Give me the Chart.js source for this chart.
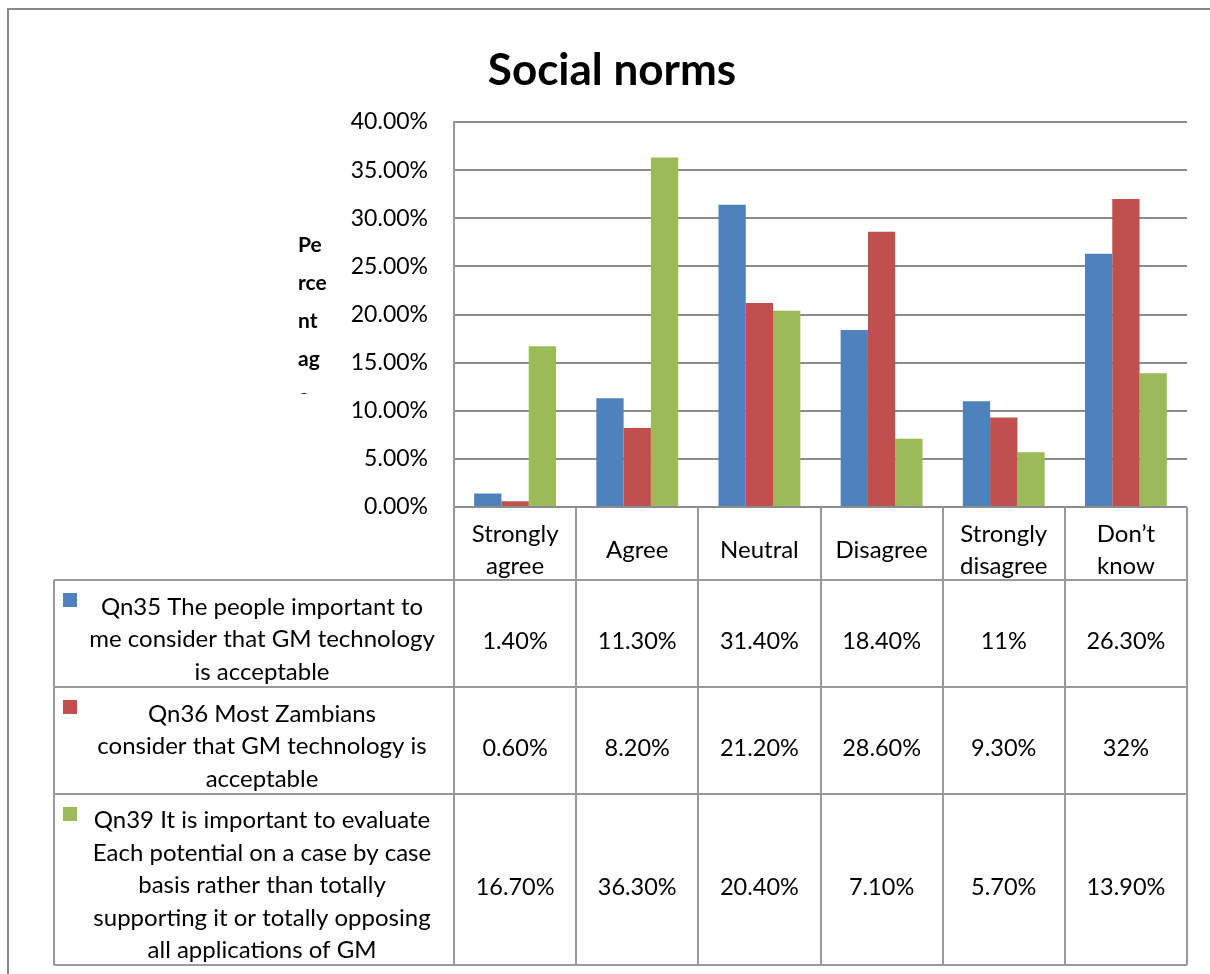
<!DOCTYPE html>
<html>
<head>
<meta charset="utf-8">
<title>Social norms</title>
<script src="https://cdn.jsdelivr.net/npm/chart.js@4.4.0/dist/chart.umd.min.js"></script>
<style>
  html, body { margin: 0; padding: 0; background: #ffffff; overflow: hidden; }
  #wrap { position: relative; width: 1210px; height: 974px; }
  canvas { display: block; }
</style>
</head>
<body>
<div id="wrap"><canvas id="chart" width="1210" height="974"></canvas></div>
<script>
// Response categories (header row of the data table, split where the cells wrap)
const categories = [
  ['Strongly', 'agree'],
  ['Agree'],
  ['Neutral'],
  ['Disagree'],
  ['Strongly', 'disagree'],
  ['Don\u2019t', 'know']
];

// Percentage of respondents per question
const qn35 = [1.4, 11.3, 31.4, 18.4, 11, 26.3];
const qn36 = [0.6, 8.2, 21.2, 28.6, 9.3, 32];
const qn39 = [16.7, 36.3, 20.4, 7.1, 5.7, 13.9];

// Series names as they wrap in the legend column of the data table
const qn35Name = ['Qn35 The people important to', 'me consider that GM technology', 'is acceptable'];
const qn36Name = ['Qn36 Most Zambians', 'consider that GM technology is', 'acceptable'];
const qn39Name = ['Qn39 It is important to evaluate', 'Each potential on a case by case',
                  'basis rather than totally', 'supporting it or totally opposing', 'all applications of GM'];

// Value axis ticks (percent)
const yTicks = [0, 5, 10, 15, 20, 25, 30, 35, 40];

const chartTitle = 'Social norms';
const yTitleLines = ['Pe', 'rce', 'nt', 'ag', 'e'];

const colors = ['#4F81BD', '#C0504D', '#9BBB59'];
const LINE = '#9a9a9a';
const FONT = 'Lato, "Open Sans", sans-serif';

function fmtPct(v) {
  return (Number.isInteger(v) ? String(v) : v.toFixed(2)) + '%';
}

// Draws the frame, title, axis title and the data table under the plot
const tablePlugin = {
  id: 'dataTable',
  beforeDraw(chart) {
    const ctx = chart.ctx;
    ctx.save();
    ctx.fillStyle = '#ffffff';
    ctx.fillRect(0, 0, chart.width, chart.height);
    ctx.strokeStyle = '#8a8a8a';
    ctx.lineWidth = 2;
    ctx.beginPath();
    ctx.moveTo(8, chart.height + 2);
    ctx.lineTo(8, 9);
    ctx.lineTo(chart.width + 2, 9);
    ctx.stroke();
    ctx.restore();
  },
  afterDraw(chart) {
    const ctx = chart.ctx;
    const area = chart.chartArea;
    const xs = chart.scales.x;
    const n = chart.data.labels.length;
    const colW = (area.right - area.left) / n;

    ctx.save();

    // chart title
    ctx.fillStyle = '#000';
    ctx.font = 'bold 44px ' + FONT;
    ctx.textAlign = 'center';
    ctx.textBaseline = 'alphabetic';
    ctx.fillText(chartTitle, 612, 85);

    // wrapped, clipped value-axis title
    ctx.save();
    ctx.beginPath();
    ctx.rect(280, 200, 70, 194);
    ctx.clip();
    ctx.font = 'bold 21px ' + FONT;
    ctx.textAlign = 'left';
    yTitleLines.forEach((t, i) => ctx.fillText(t, 298, 252 + i * 38));
    ctx.restore();

    // table geometry
    const tableLeft = 54;
    const lineH = 32.5;
    const headerTop = area.bottom;
    const headerBottom = headerTop + 73;
    const rows = chart.data.datasets.map(ds => ({
      ds,
      h: ds.nameLines.length * 32 + 11
    }));
    let y = headerBottom;
    rows.forEach(r => { r.top = y; y += r.h; r.bottom = y; });
    const tableBottom = y;

    // grid lines of the table
    ctx.strokeStyle = LINE;
    ctx.lineWidth = 2;
    ctx.beginPath();
    ctx.moveTo(tableLeft, headerBottom); ctx.lineTo(area.right, headerBottom);
    rows.forEach(r => { ctx.moveTo(tableLeft, r.bottom); ctx.lineTo(area.right, r.bottom); });
    ctx.moveTo(tableLeft, headerBottom); ctx.lineTo(tableLeft, tableBottom);
    for (let i = 0; i <= n; i++) {
      const x = Math.round(area.left + i * colW);
      ctx.moveTo(x, headerTop); ctx.lineTo(x, tableBottom);
    }
    ctx.stroke();

    // header labels
    ctx.fillStyle = '#000';
    ctx.font = '24px ' + FONT;
    ctx.textAlign = 'center';
    ctx.textBaseline = 'middle';
    chart.data.labels.forEach((lab, i) => {
      const cx = xs.getPixelForValue(i);
      const mid = (headerTop + headerBottom) / 2 + 7;
      lab.forEach((t, k) => {
        ctx.fillText(t, cx, mid + (k - (lab.length - 1) / 2) * lineH);
      });
    });

    // legend keys, series names and values
    rows.forEach(r => {
      const mid = (r.top + r.bottom) / 2 + 6;
      ctx.fillStyle = r.ds.backgroundColor;
      ctx.fillRect(63, r.top + 13, 14, 14);
      ctx.fillStyle = '#000';
      ctx.font = '24px ' + FONT;
      const L = r.ds.nameLines;
      L.forEach((t, k) => {
        ctx.fillText(t, 262, mid + (k - (L.length - 1) / 2) * lineH);
      });
      ctx.font = '23.5px ' + FONT;
      r.ds.data.forEach((v, i) => {
        ctx.fillText(fmtPct(v), xs.getPixelForValue(i), mid + 2);
      });
    });

    ctx.restore();
  }
};

function build() {
  new Chart(document.getElementById('chart'), {
    type: 'bar',
    data: {
      labels: categories,
      datasets: [
        { label: qn35Name.join(' '), nameLines: qn35Name, data: qn35, backgroundColor: colors[0] },
        { label: qn36Name.join(' '), nameLines: qn36Name, data: qn36, backgroundColor: colors[1] },
        { label: qn39Name.join(' '), nameLines: qn39Name, data: qn39, backgroundColor: colors[2] }
      ]
    },
    options: {
      responsive: false,
      animation: false,
      devicePixelRatio: 1,
      layout: { padding: { left: 0, right: 23, top: 122, bottom: 467 } },
      datasets: { bar: { categoryPercentage: 0.67, barPercentage: 1.0, borderWidth: 0 } },
      plugins: {
        legend: { display: false },
        title: { display: false },
        tooltip: { enabled: false }
      },
      scales: {
        x: {
          grid: { display: false, drawTicks: false },
          border: { display: false },
          ticks: { display: false },
          afterFit(s) { s.height = 0; }
        },
        y: {
          min: 0,
          max: 40,
          afterBuildTicks(s) { s.ticks = yTicks.map(v => ({ value: v })); },
          afterFit(s) { s.width = 454; },
          grid: { color: '#8c8c8c', lineWidth: 2, drawTicks: false },
          border: { display: true, color: LINE, width: 2 },
          ticks: {
            padding: 26,
            color: '#000',
            font: { family: FONT, size: 23 },
            callback: v => v.toFixed(2) + '%'
          }
        }
      }
    },
    plugins: [tablePlugin]
  });
}

if (document.fonts && document.fonts.load) {
  Promise.all([
    document.fonts.load('24px Lato'),
    document.fonts.load('bold 44px Lato'),
    document.fonts.load('bold 21px Lato')
  ]).then(build, build);
} else {
  build();
}
</script>
</body>
</html>
